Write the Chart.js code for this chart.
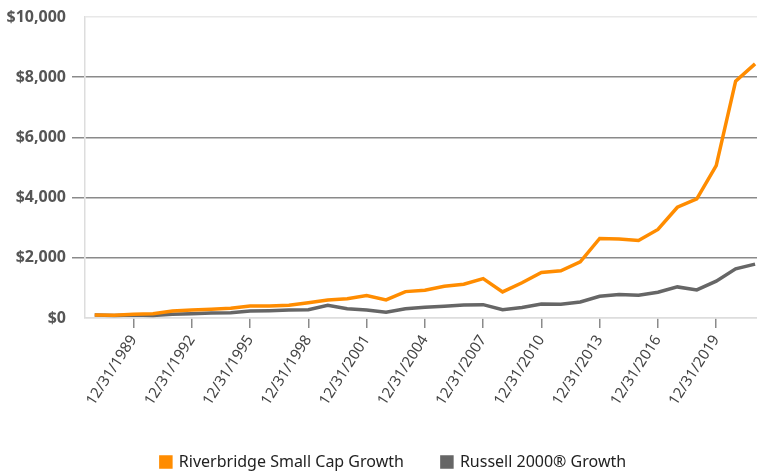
<!DOCTYPE html>
<html>
<head>
<meta charset="utf-8">
<script src="https://cdn.jsdelivr.net/npm/chart.js@4.4.1/dist/chart.umd.min.js"></script>
<style>
  html, body { margin: 0; padding: 0; background: #fff; }
  #wrap { width: 757px; height: 474px; }
</style>
</head>
<body>
<div id="wrap"><canvas id="growth_Chart" width="757" height="474"></canvas></div>
<script>
// year-end values, growth of $100
var years = [1987, 1988, 1989, 1990, 1991, 1992, 1993, 1994, 1995, 1996, 1997, 1998,
    1999, 2000, 2001, 2002, 2003, 2004, 2005, 2006, 2007, 2008, 2009, 2010, 2011,
    2012, 2013, 2014, 2015, 2016, 2017, 2018, 2019, 2020, 2021];
var riverbridge = [100, 90, 123, 143, 233, 267, 290, 323, 395, 400, 423, 510,
    600, 643, 743, 600, 877, 923, 1057, 1123, 1310, 867, 1170, 1510, 1567,
    1867, 2643, 2623, 2577, 2943, 3680, 3957, 5060, 7867, 8443];
var russell = [100, 85, 100, 80, 123, 143, 167, 177, 230, 243, 267, 277,
    423, 310, 267, 190, 310, 357, 390, 433, 443, 277, 350, 467, 457,
    533, 723, 777, 757, 857, 1033, 933, 1222, 1633, 1790];
var tickYears = [1989, 1992, 1995, 1998, 2001, 2004, 2007, 2010, 2013, 2016, 2019];
var serieNames = ["Riverbridge Small Cap Growth", "Russell 2000\u00AE Growth"];

var fuente = "'Noto Sans', Roboto, sans-serif";

function toPoints(vals) {
    return vals.map(function (v, i) { return { x: years[i], y: v }; });
}

// legend: fixed height, shifted a bit to the right like the original
var legendFit = {
    id: "legendFit",
    beforeInit: function (chart) {
        var fit = chart.legend.fit;
        chart.legend.fit = function () {
            fit.call(this);
            this.height = 58;
        };
    },
    afterLayout: function (chart) {
        chart.legend.left = 30;
    },
};

var ctx = document.getElementById("growth_Chart").getContext("2d");
var chart = new Chart(ctx, {
    type: "line",
    data: {
        datasets: [
            {
                label: serieNames[0],
                data: toPoints(riverbridge),
                borderColor: "#FF8C00",
                backgroundColor: "#FF8C00",
                borderWidth: 3.5,
                pointRadius: 0,
                tension: 0,
            },
            {
                label: serieNames[1],
                data: toPoints(russell),
                borderColor: "#666666",
                backgroundColor: "#666666",
                borderWidth: 3.5,
                pointRadius: 0,
                tension: 0,
            },
        ],
    },
    options: {
        responsive: false,
        animation: false,
        devicePixelRatio: 1,
        layout: { padding: { top: 17, left: 0, right: 0, bottom: 0 } },
        plugins: {
            tooltip: { enabled: false },
            legend: {
                position: "bottom",
                labels: {
                    boxWidth: 10,
                    boxHeight: 10,
                    padding: 38,
                    color: "#222",
                    font: { family: fuente, size: 16 },
                },
            },
        },
        scales: {
            x: {
                type: "linear",
                min: 1986.5,
                max: 2021.1,
                afterBuildTicks: function (scale) {
                    scale.ticks = tickYears.map(function (y) { return { value: y }; });
                },
                afterFit: function (scale) {
                    scale.height = 98;
                    scale.paddingLeft = 0;
                    scale.paddingRight = 0;
                },
                ticks: {
                    autoSkip: false,
                    minRotation: 57,
                    maxRotation: 57,
                    padding: 4,
                    color: "#444",
                    font: { family: fuente, size: 15 },
                    callback: function (v) { return "12/31/" + v; },
                },
                grid: {
                    drawOnChartArea: false,
                    drawTicks: true,
                    tickLength: 10,
                    color: "#8a8a8a",
                    lineWidth: 1.5,
                },
                border: { color: "#dddddd", width: 1.5 },
            },
            y: {
                min: 0,
                max: 10000,
                afterFit: function (scale) {
                    scale.width = 85;
                    scale.paddingTop = 0;
                    scale.paddingBottom = 0;
                },
                ticks: {
                    stepSize: 2000,
                    padding: 6,
                    color: "#555",
                    font: { family: fuente, size: 16, weight: "bold" },
                    callback: function (v) { return "$" + v.toLocaleString("en-US"); },
                },
                grid: {
                    tickLength: 13,
                    lineWidth: 1.5,
                    color: function (c) {
                        if (c.tick.value == 10000) return "#e8e8e8";
                        if (c.tick.value == 0) return "#dddddd";
                        return "#8a8a8a";
                    },
                    tickColor: function (c) {
                        if (c.tick.value == 10000 || c.tick.value == 0) return "rgba(0,0,0,0)";
                        return "#8a8a8a";
                    },
                },
                border: { color: "#dddddd", width: 1.5 },
            },
        },
    },
    plugins: [legendFit],
});
</script>
</body>
</html>
